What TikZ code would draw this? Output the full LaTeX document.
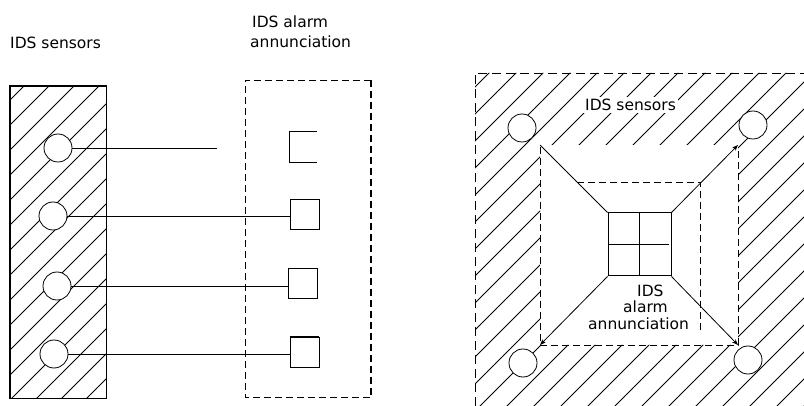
\documentclass[tikz,border=0pt]{standalone}
\usepackage{fontspec}
\setmainfont{DejaVu Sans}
\usetikzlibrary{arrows.meta}
\begin{document}
\begin{tikzpicture}[x=1pt,y=-1pt,
  lbl/.style={font=\fontsize{15.5}{17}\selectfont, inner sep=0pt, anchor=base west},
  hatchline/.style={line width=0.75pt},
  sensor/.style={circle, draw, fill=white, line width=0.8pt, minimum size=28pt, inner sep=0pt},
  lamp/.style={rectangle, draw, line width=0.9pt, minimum width=29pt, minimum height=30pt, inner sep=0pt},
  lampslot/.style={rectangle, minimum width=27pt, minimum height=30pt, inner sep=0pt},
  wire/.style={line width=0.8pt},
  dashline/.style={line width=0.8pt, dash pattern=on 7pt off 4pt},
  arr/.style={-{Stealth[length=6pt,width=4.5pt]}}
]
\useasboundingbox (0,0) rectangle (804,406);

% ---------- left panel ----------
\node[lbl] (t1) at (10,49) {IDS sensors};
\node[lbl] (t2) at (252,28) {IDS alarm};
\node[lbl] (t3) at (250,48) {annunciation};

\node[draw, line width=0.9pt, minimum width=96pt, minimum height=312pt, inner sep=0pt] (sens) at (58,242) {};
\begin{scope}
  \clip (sens.north west) rectangle (sens.south east);
  \foreach \c in {110,135,...,510} \draw[hatchline] (\c-400,400) -- (\c,0);
\end{scope}
\draw[line width=0.9pt] (sens.north west) rectangle (sens.south east);

% annunciator panel
\coordinate (pnw) at (245,80);
\coordinate (pne) at (371,80);
\coordinate (pse) at (371,397);
\coordinate (psw) at (245,397);
\draw[dashline] (pne) -- (pnw) -- (psw) -- (pse);
\draw[line width=2pt, dash pattern=on 7pt off 4pt] (pne) -- (pse);

% sensors
\node[sensor] (c1) at (58,148) {};
\node[sensor] (c2) at (53,216) {};
\node[sensor] (c3) at (57,286) {};
\node[sensor] (c4) at (54,354) {};

% lamps
\node[lampslot] (b1) at (303.5,147) {};
\draw[line width=0.9pt] (b1.north east) -- (b1.north west) -- (b1.south west) -- (b1.south east);
\node[lamp] (b2) at (304.5,214) {};
\node[lamp] (b3) at (302.5,283.5) {};
\node[lamp] (b4) at (304.5,352) {};
\draw[line width=2pt] (b4.north west) -- (b4.north east);

% wires
\coordinate (w1) at (217,148);
\draw[wire] (c1.east) -- (w1);
\draw[wire] (c2.east) -- (b2.west |- c2.east);
\draw[wire] (c3.east) -- (b3.west |- c3.east);
\draw[wire] (c4.east) -- (b4.west |- c4.east);

% ---------- right panel ----------
\coordinate (onw) at (475,73);
\coordinate (one) at (804,73);
\coordinate (osw) at (475,406);
\coordinate (ose) at (804,406);
\coordinate (i1) at (540,145);
\coordinate (i2) at (738,145);
\coordinate (i3) at (738,345);
\coordinate (i4) at (540,345);

\begin{scope}[even odd rule]
  \clip (onw) rectangle (ose) (i1) rectangle (i3);
  \foreach \c in {535,562,...,1215} \draw[hatchline] (\c-500,500) -- (\c,0);
\end{scope}
\draw[line width=0.9pt, dash pattern=on 9pt off 5pt] (osw) -- (onw) -- (one);
\draw[dashline] (540,147) -- (i4) -- (i3) -- (738,147);

% smaller dashed frame
\coordinate (s1) at (577,182);
\coordinate (s2) at (700,182);
\coordinate (s3) at (700,330);
\draw[dashline] (s1) -- (s2) -- (s3);

% grid (annunciator)
\node[draw, line width=1pt, minimum size=63pt, inner sep=0pt] (g) at (639.5,244.5) {};
\draw[line width=1pt] (g.north) -- (g.south);
\draw[line width=1pt] (g.west) -- ([xshift=-3pt]g.east);

% sensors
\node[sensor] (d1) at (522,128) {};
\node[sensor] (d2) at (753,125) {};
\node[sensor] (d3) at (523,363) {};
\node[sensor] (d4) at (748,360) {};

% connectors
\draw[wire] (i1) -- (g.north west);
\draw[wire, arr] (g.north east) -- (i2);
\draw[wire, arr] (g.south west) -- (i4);
\draw[wire, arr] (g.south east) -- (i3);

% labels
\node[lbl, fill=white, inner sep=2pt] (t4) at (583,111) {IDS sensors};
\node[lbl] (t5) at (637,297) {IDS};
\node[lbl] (t6) at (623,313) {alarm};
\node[lbl] (t7) at (588,330) {annunciation};
\end{tikzpicture}
\end{document}
